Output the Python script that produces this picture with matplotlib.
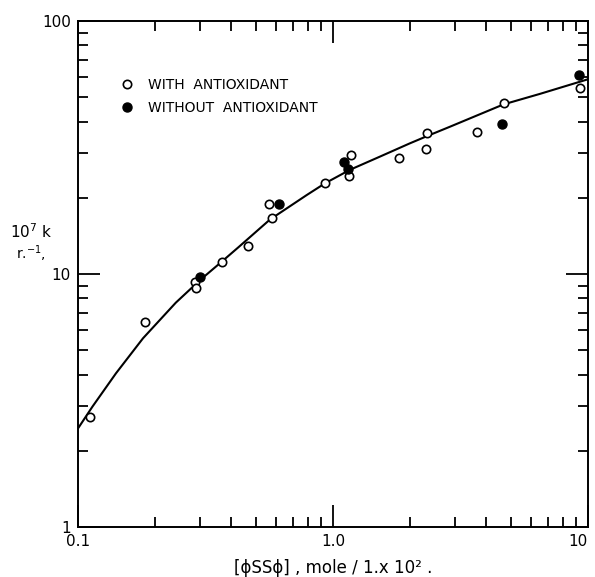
"""
Rate constant vs [PhSSPh] concentration, log-log, with and without antioxidant.
"""

import matplotlib

matplotlib.use("Agg")
import matplotlib.pyplot as plt

# ------------------------------
# Data
conc_with = [0.111, 0.184, 0.288, 0.29, 0.367, 0.464, 0.56, 0.575, 0.93,
             1.16, 1.18, 1.82, 2.32, 2.34, 3.69, 4.69, 9.35]
k_with = [2.73, 6.44, 9.3, 8.8, 11.2, 12.9, 18.9, 16.7, 22.9,
          24.3, 29.5, 28.6, 31.1, 36.0, 36.5, 47.3, 54.2]

conc_without = [0.301, 0.614, 1.107, 1.148, 4.61, 9.23]
k_without = [9.7, 18.9, 27.6, 25.9, 39.2, 61.3]

# fitted curve, traced by eye
conc_fit = [0.1, 0.114, 0.141, 0.18, 0.242, 0.301, 0.367, 0.426, 0.566,
            0.789, 0.93, 1.166, 1.53, 2.0, 2.33, 2.88, 4.67, 6.49, 9.3, 10.0]
k_fit = [2.45, 2.99, 4.05, 5.57, 7.7, 9.45, 11.2, 12.75, 16.4,
         20.5, 22.8, 25.8, 29.1, 32.8, 35.0, 38.2, 46.8, 51.5, 57.5, 58.8]

x_ticks = [0.1, 1.0, 10.0]
x_ticklabels = ["0.1", "1.0", "10"]
y_ticks = [1, 10, 100]
y_ticklabels = ["1", "10", "100"]

# ------------------------------
fg = plt.figure(figsize=(5.95, 5.77), dpi=100)
ax = fg.add_axes([0.131, 0.0867, 0.857, 0.877])

ax.plot(conc_fit, k_fit, c="k", lw=1.5, zorder=2)
ax.plot(conc_with, k_with, "o", ms=6, mfc="white", mec="k", mew=1.2,
        ls="none", zorder=3, label="WITH  ANTIOXIDANT")
ax.plot(conc_without, k_without, "o", ms=6.5, mfc="k", mec="k", mew=1.0,
        ls="none", zorder=3, label="WITHOUT  ANTIOXIDANT")

ax.set_xscale("log")
ax.set_yscale("log")
ax.set_xlim(0.1, 10)
ax.set_ylim(1, 100)

ax.set_xticks(x_ticks)
ax.set_xticklabels(x_ticklabels)
ax.set_yticks(y_ticks)
ax.set_yticklabels(y_ticklabels)
ax.tick_params(which="both", direction="in", top=True, right=True,
               labelsize=11, width=1.3)
ax.tick_params(which="major", length=16, pad=5)
ax.tick_params(which="minor", length=7)
ax.get_xticklabels()[-1].set_ha("right")
for sp in ax.spines.values():
    sp.set_linewidth(1.4)

leg = ax.legend(loc="upper left", bbox_to_anchor=(0.082, 0.887), frameon=False,
                fontsize=10, handlelength=1.0, handletextpad=1.0,
                labelspacing=0.65, borderpad=0, borderaxespad=0)

ax.set_xlabel("[ϕSSϕ] , mole / 1.x 10² .", fontsize=12, labelpad=7)

fg.text(0.052, 0.598, "10$^7$ k", fontsize=11, ha="center", va="center")
fg.text(0.052, 0.560, "r.$^{-1}$,", fontsize=10, ha="center", va="center")

fg.savefig("out.png", dpi=100)
